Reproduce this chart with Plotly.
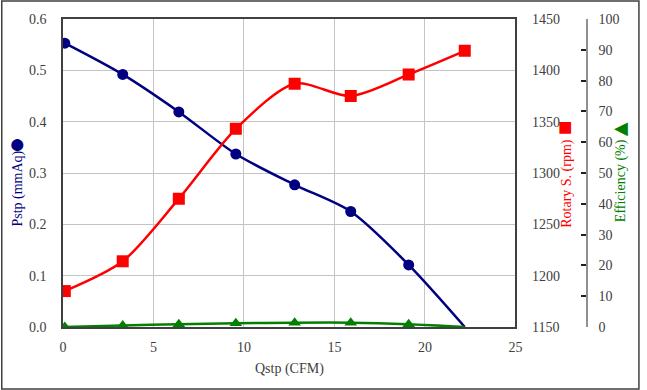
import plotly.graph_objects as go

# ---- data ----
qstp = [0.1, 3.3, 6.4, 9.55, 12.8, 15.9, 19.1, 22.2]
pstp = [0.553, 0.492, 0.419, 0.337, 0.277, 0.225, 0.121, 0.0]
rpm = [1185, 1214, 1275, 1343, 1387, 1375, 1396, 1419]
eff = [0.0, 0.5, 0.9, 1.2, 1.4, 1.4, 0.9, 0.0]
x_ticks = [0, 5, 10, 15, 20, 25]
p_ticks = [0.0, 0.1, 0.2, 0.3, 0.4, 0.5, 0.6]
rpm_ticks = [1150, 1200, 1250, 1300, 1350, 1400, 1450]
eff_ticks = [0, 10, 20, 30, 40, 50, 60, 70, 80, 90, 100]

W, H = 647, 390
L, R, T, B = 63, 7, 19, 63
PW = W - L - R
PH = H - T - B
PLOT_R = 521


def px(x):
    return (x - L) / PW


def py(y):
    return (H - B - y) / PH


FONT = "Liberation Serif, Times New Roman, serif"
TXT = "#404040"
NAVY = "#000080"
RED = "#FF0000"
GREEN = "#008000"

fig = go.Figure()
# lines (all points)
for ys, col, ax in [(pstp, NAVY, "y"), (rpm, RED, "y2"), (eff, GREEN, "y3")]:
    fig.add_trace(go.Scatter(x=qstp, y=ys, mode="lines",
                             line=dict(color=col, width=2.5, shape="spline", smoothing=0.8),
                             yaxis=ax, showlegend=False, hoverinfo="skip"))
# markers
fig.add_trace(go.Scatter(x=qstp[:-1], y=pstp[:-1], mode="markers", yaxis="y", showlegend=False,
                         marker=dict(symbol="circle", size=11, color=NAVY, opacity=1, line=dict(width=0))))
fig.add_trace(go.Scatter(x=qstp, y=rpm, mode="markers", yaxis="y2", showlegend=False,
                         marker=dict(symbol="square", size=12, color=RED, opacity=1, line=dict(width=0))))
fig.add_trace(go.Scatter(x=qstp[:-1], y=eff[:-1], mode="markers", yaxis="y3", showlegend=False,
                         marker=dict(symbol="triangle-up", size=11, color=GREEN, opacity=1, line=dict(width=0))))

tickfont = dict(family=FONT, size=14, color=TXT)
grid = "#c4c4c4"

fig.update_layout(
    width=W, height=H, autosize=False,
    margin=dict(l=L, r=R, t=T, b=B),
    paper_bgcolor="white", plot_bgcolor="white",
    font=dict(family=FONT, size=14, color=TXT),
    xaxis=dict(domain=[0, px(PLOT_R)], range=[0, 25], tickvals=x_ticks, showgrid=True, gridcolor=grid,
               gridwidth=1, zeroline=False, showline=True, linecolor="#404040", linewidth=1.5, mirror=True,
               ticks="", tickfont=tickfont, ticklabelstandoff=6),
    yaxis=dict(range=[0, 0.6], tickvals=p_ticks, tickformat=".1f", showgrid=True, gridcolor=grid,
               zeroline=False, showline=True, linecolor="#404040", linewidth=1.5, ticks="",
               tickfont=tickfont, ticklabelstandoff=12),
    yaxis2=dict(range=[1150, 1450], tickvals=rpm_ticks, overlaying="y", side="right", anchor="x",
                showgrid=False, zeroline=False, showline=True, linecolor="#404040", linewidth=1.5,
                ticks="", tickfont=tickfont, ticklabelstandoff=12),
    yaxis3=dict(range=[0, 100], tickvals=eff_ticks, overlaying="y", side="right", anchor="free",
                position=px(593.3), showgrid=False, zeroline=False, showline=True, linecolor="#909090",
                linewidth=1.5, ticks="inside", ticklen=5, tickwidth=1.5, tickcolor="#202020",
                tickfont=tickfont, ticklabelstandoff=8),
)

annos = [
    dict(x=px(292), y=py(369), text="Qstp (CFM)", textangle=0, font=dict(size=14, color=TXT)),
    dict(x=px(17), y=py(189), text="Pstp (mmAq)", textangle=-90, font=dict(size=14, color=NAVY)),
    dict(x=px(17), y=py(143), text="●", textangle=0, font=dict(size=28, color=NAVY)),
    dict(x=px(573), y=py(183), text="Rotary S. (rpm)", textangle=-90, font=dict(size=14, color=RED)),
    dict(x=px(572), y=py(127), text="■", textangle=0, font=dict(size=24, color=RED)),
    dict(x=px(628), y=py(181), text="Efficiency (%)", textangle=-90, font=dict(size=14, color=GREEN)),
    dict(x=px(628), y=py(128), text="◀", textangle=0, font=dict(size=18, color=GREEN)),
]
for a in annos:
    a.update(xref="paper", yref="paper", showarrow=False, xanchor="center", yanchor="middle")
    a["font"]["family"] = FONT
fig.update_layout(annotations=annos)

fig.add_shape(type="rect", xref="paper", yref="paper", x0=px(1), x1=px(646), y0=py(389), y1=py(1),
              line=dict(color="#404040", width=1.5), fillcolor="rgba(0,0,0,0)", layer="above")

fig.write_html(
    "out.html",
    config={"displayModeBar": False, "responsive": False},
    post_script=("document.body.style.margin='0';document.body.style.overflow='hidden';"),
)
